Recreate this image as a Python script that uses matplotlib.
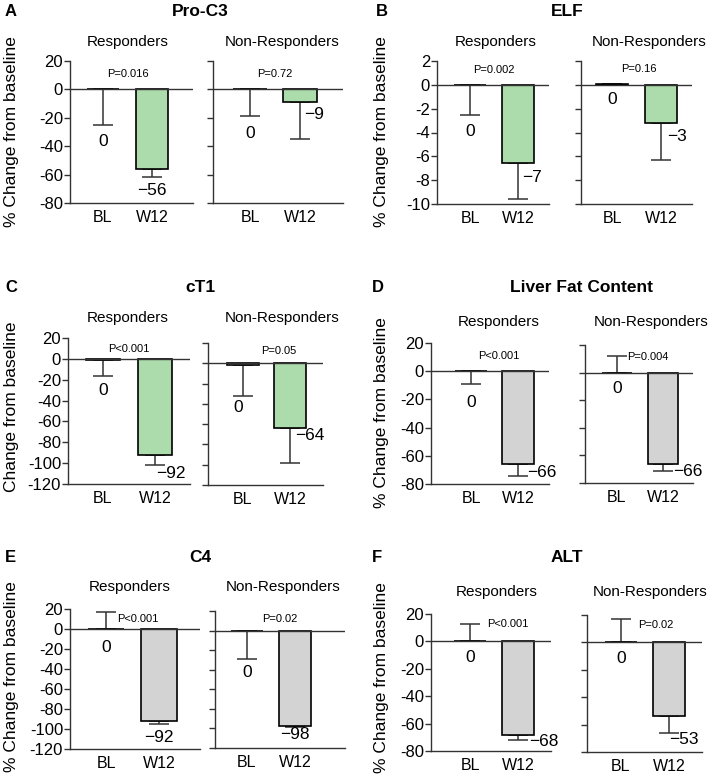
import matplotlib
matplotlib.use("Agg")
import matplotlib.pyplot as plt
import numpy as np

plt.rcParams['font.family'] = ['Liberation Sans', 'DejaVu Sans']
plt.rcParams['axes.unicode_minus'] = False

# ---------------- data ----------------
letters = ["A", "B", "C", "D", "E", "F"]
titles = ["Pro-C3", "ELF", "cT1", "Liver Fat Content", "C4", "ALT"]
groups = ["Responders", "Non-Responders"]
timepoints = ["BL", "W12"]

# mean % change [BL, W12]
proc3_resp = [0, -56]
proc3_non = [0, -9]
elf_resp = [0, -6.6]
elf_non = [0.05, -3.2]
ct1_resp = [-1, -92]
ct1_non = [-2, -64]
lfc_resp = [0, -66]
lfc_non = [0, -66]
c4_resp = [0, -92]
c4_non = [0, -98]
alt_resp = [0, -68]
alt_non = [0, -54]

# error bars: lower and upper extents [BL, W12]
proc3_resp_lo, proc3_resp_hi = [25, 6], [0, 0]
proc3_non_lo, proc3_non_hi = [19, 26], [0, 0]
elf_resp_lo, elf_resp_hi = [2.5, 3.0], [0, 0]
elf_non_lo, elf_non_hi = [0, 3.1], [0, 0]
ct1_resp_lo, ct1_resp_hi = [15, 10], [0, 0]
ct1_non_lo, ct1_non_hi = [30, 34], [0, 0]
lfc_resp_lo, lfc_resp_hi = [9, 8], [0, 0]
lfc_non_lo, lfc_non_hi = [0, 5], [12, 0]
c4_resp_lo, c4_resp_hi = [0, 3], [17, 0]
c4_non_lo, c4_non_hi = [29, 0.5], [0, 0]
alt_resp_lo, alt_resp_hi = [0, 4], [13, 0]
alt_non_lo, alt_non_hi = [0, 12], [17, 0]

# value labels shown under/next to bars
proc3_labels = [["0", "\u221256"], ["0", "\u22129"]]
elf_labels = [["0", "\u22127"], ["0", "\u22123"]]
ct1_labels = [["0", "\u221292"], ["0", "\u221264"]]
lfc_labels = [["0", "\u221266"], ["0", "\u221266"]]
c4_labels = [["0", "\u221292"], ["0", "\u221298"]]
alt_labels = [["0", "\u221268"], ["0", "\u221253"]]

# p-values [Responders, Non-Responders]
proc3_p = ["P=0.016", "P=0.72"]
elf_p = ["P=0.002", "P=0.16"]
ct1_p = ["P<0.001", "P=0.05"]
lfc_p = ["P<0.001", "P=0.004"]
c4_p = ["P<0.001", "P=0.02"]
alt_p = ["P<0.001", "P=0.02"]

# y axis ranges (min, max, step)
ylims = [(-80, 20, 20), (-10, 2, 2), (-120, 20, 20), (-80, 20, 20), (-120, 20, 20), (-80, 20, 20)]
ylabels = ["% Change from baseline", "% Change from baseline", "Change from baseline",
           "% Change from baseline", "% Change from baseline", "% Change from baseline"]

means = [(proc3_resp, proc3_non), (elf_resp, elf_non), (ct1_resp, ct1_non),
         (lfc_resp, lfc_non), (c4_resp, c4_non), (alt_resp, alt_non)]
errs = [((proc3_resp_lo, proc3_resp_hi), (proc3_non_lo, proc3_non_hi)),
        ((elf_resp_lo, elf_resp_hi), (elf_non_lo, elf_non_hi)),
        ((ct1_resp_lo, ct1_resp_hi), (ct1_non_lo, ct1_non_hi)),
        ((lfc_resp_lo, lfc_resp_hi), (lfc_non_lo, lfc_non_hi)),
        ((c4_resp_lo, c4_resp_hi), (c4_non_lo, c4_non_hi)),
        ((alt_resp_lo, alt_resp_hi), (alt_non_lo, alt_non_hi))]
vlabels = [proc3_labels, elf_labels, ct1_labels, lfc_labels, c4_labels, alt_labels]
pvals = [proc3_p, elf_p, ct1_p, lfc_p, c4_p, alt_p]

# ---------------- layout (pixels / data offsets) ----------------
W, H = 709, 784
GREEN = "#acdcac"
GREY = "#d3d3d3"
colors = [GREEN, GREEN, GREEN, GREY, GREY, GREY]

# axes boxes (x0, x1, y0, y1) in pixels and bar centres (BL, W12)
axes_px = [
    [((70, 193, 61, 203), (103, 152)), ((213, 343, 61, 203), (250, 300))],
    [((437, 549, 61, 204), (470, 518)), ((581, 692, 61, 204), (612, 661))],
    [((68, 190, 338, 484), (103, 155)), ((208, 323, 343, 485), (243, 290))],
    [((431, 549, 343, 484), (471, 518)), ((585, 693, 345, 483), (617, 663))],
    [((70, 200, 609, 749), (106, 159)), ((215, 345, 611, 748), (247, 295))],
    [((431, 551, 614, 751), (470, 518)), ((587, 702, 615, 752), (621, 669))],
]
# value label positions (x, y) in data units: [[BL, W12], [BL, W12]]
vlabel_pos = [
    [[(0, -37), (1, -71)], [(0, -31), (1.28, -18)]],
    [[(0, -3.9), (1.3, -7.8)], [(0, -1.2), (1.33, -4.3)]],
    [[(0, -30), (1.3, -110)], [(-0.1, -44), (1.42, -71)]],
    [[(0, -22), (1.5, -72)], [(0, -11.5), (1.55, -72)]],
    [[(0, -18), (1, -108)], [(0, -43), (1, -106)]],
    [[(0, -12), (1.54, -73)], [(0, -12), (1.32, -71)]],
]
pval_pos = [
    [(0.5, 11), (0.5, 11)],
    [(0.5, 1.25), (0.55, 1.3)],
    [(0.5, 9), (0.75, 12.5)],
    [(0.6, 10.5), (0.68, 11)],
    [(0.6, 10), (0.69, 12)],
    [(0.79, 12.4), (0.73, 13)],
]
letter_px = [(5, 12), (376, 12), (5, 288), (372, 288), (5, 557), (372, 557)]
title_px = [(200, 12), (567, 12), (200, 288), (581, 288), (200, 557), (567, 557)]
sub_px = [[(128, 42), (282, 42)], [(496, 42), (649, 42)], [(128, 318), (282, 318)],
          [(499, 322), (651, 322)], [(130, 587), (283, 587)], [(497, 592), (650, 592)]]
ylabel_px = [(12, 132), (381, 132), (12, 407), (381, 413), (12, 677), (381, 678)]

BAR_W = 0.67

fig = plt.figure(figsize=(W / 100, H / 100), dpi=100)


def fx(px):
    return px / W


def fy(py):
    return 1 - py / H


for p in range(6):
    ymin, ymax, ystep = ylims[p]
    for g in range(2):
        (x0, x1, y0, y1), (cbl, cw) = axes_px[p][g]
        ax = fig.add_axes([fx(x0), fy(y1), (x1 - x0) / W, (y1 - y0) / H])
        d = cw - cbl
        ax.set_xlim((x0 - cbl) / d, 1 + (x1 - cw) / d)
        ax.set_ylim(ymin, ymax)
        xs = np.arange(len(timepoints))
        vals = means[p][g]
        lo, hi = errs[p][g]
        ax.bar(xs, vals, width=BAR_W, color=["white", colors[p]],
               edgecolor="black", linewidth=1.2, zorder=2)
        ax.errorbar(xs, vals, yerr=[lo, hi], fmt="none", ecolor="#333333",
                    elinewidth=1.1, capsize=7, capthick=1.1, zorder=1)
        ax.axhline(0, color="#333333", linewidth=1.0, zorder=3)
        for i in range(2):
            lx, ly = vlabel_pos[p][g][i]
            ax.text(lx, ly, vlabels[p][g][i], ha="center", va="center", fontsize=12.5)
        px_, py_ = pval_pos[p][g]
        ax.text(px_, py_, pvals[p][g], ha="center", va="center", fontsize=8)
        ax.set_yticks(np.arange(ymin, ymax + ystep / 2, ystep))
        ax.set_xticks(xs)
        ax.set_xticklabels(timepoints, fontsize=11.5)
        ax.tick_params(axis="x", length=0, pad=5)
        ax.tick_params(axis="y", length=4, width=1, color="#333333", labelsize=12, pad=1)
        if g == 1:
            ax.set_yticklabels([])
        for s in ["top", "right"]:
            ax.spines[s].set_visible(False)
        for s in ["left", "bottom"]:
            ax.spines[s].set_color("#333333")
            ax.spines[s].set_linewidth(1.0)
        ax.patch.set_alpha(0)
        sx, sy = sub_px[p][g]
        fig.text(fx(sx), fy(sy), groups[g], ha="center", va="center", fontsize=11)
    lx, ly = letter_px[p]
    fig.text(fx(lx), fy(ly), letters[p], ha="left", va="center", fontsize=12, fontweight="bold")
    tx, ty = title_px[p]
    fig.text(fx(tx), fy(ty), titles[p], ha="center", va="center", fontsize=12.5, fontweight="bold")
    yx, yy = ylabel_px[p]
    fig.text(fx(yx), fy(yy), ylabels[p], ha="center", va="center", rotation=90, fontsize=12.5)

fig.savefig("out.png", dpi=100)
